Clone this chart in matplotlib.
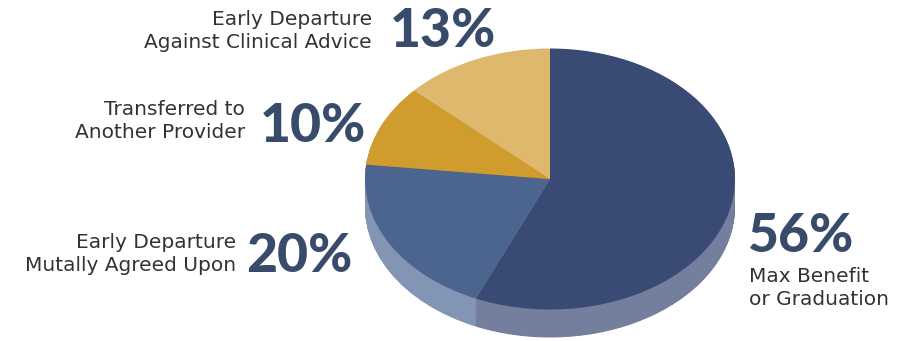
import matplotlib.pyplot as plt
import numpy as np

# program discharge outcomes
labels = ["Max Benefit\nor Graduation",
          "Early Departure\nMutally Agreed Upon",
          "Transferred to\nAnother Provider",
          "Early Departure\nAgainst Clinical Advice"]
values = [56, 20, 10, 13]
top_colors = ["#394b74", "#4c658f", "#d09c2d", "#deb86c"]
side_colors = ["#737f9d", "#8395b4", "#b0842a", "#c09c58"]

W, H = 912, 341
fig = plt.figure(figsize=(W / 100, H / 100), dpi=100)
ax = fig.add_axes([0, 0, 1, 1])

# tilted pie: unit circle squashed to an ellipse by the axis limits
cx, cy, rx, ry = 550, 179, 185, 130.5
depth = 28 / ry
for d in np.linspace(depth, 0, 50)[:-1]:
    ax.pie(values, colors=side_colors, startangle=90, counterclock=False,
           center=(0, -d), wedgeprops=dict(linewidth=0))
ax.pie(values, colors=top_colors, startangle=90, counterclock=False,
       wedgeprops=dict(linewidth=0))
ax.set_aspect("auto")
ax.set_xlim(-cx / rx, (W - cx) / rx)
ax.set_ylim((cy - H) / ry, cy / ry)
ax.axis("off")

pct_kw = dict(fontsize=38.5, fontweight="black", color="#394b6b", family="Lato")
lab_kw = dict(fontsize=14.5, color="#333333", family="DejaVu Sans", linespacing=1.22)


def put(x, y, s, **kw):
    fig.text(x / W, 1 - y / H, s, **kw)


pcts = [f"{v}%" for v in values]

put(372, 31, labels[3], ha="right", va="center", **lab_kw)
put(390, 47, pcts[3], ha="left", va="baseline", **pct_kw)

put(245, 121, labels[2], ha="right", va="center", **lab_kw)
put(260, 142, pcts[2], ha="left", va="baseline", **pct_kw)

put(236, 254, labels[1], ha="right", va="center", **lab_kw)
put(246, 272, pcts[1], ha="left", va="baseline", **pct_kw)

put(747, 252, pcts[0], ha="left", va="baseline", **pct_kw)
put(749, 288, labels[0], ha="left", va="center", **lab_kw)

fig.savefig("out.png", dpi=100)
